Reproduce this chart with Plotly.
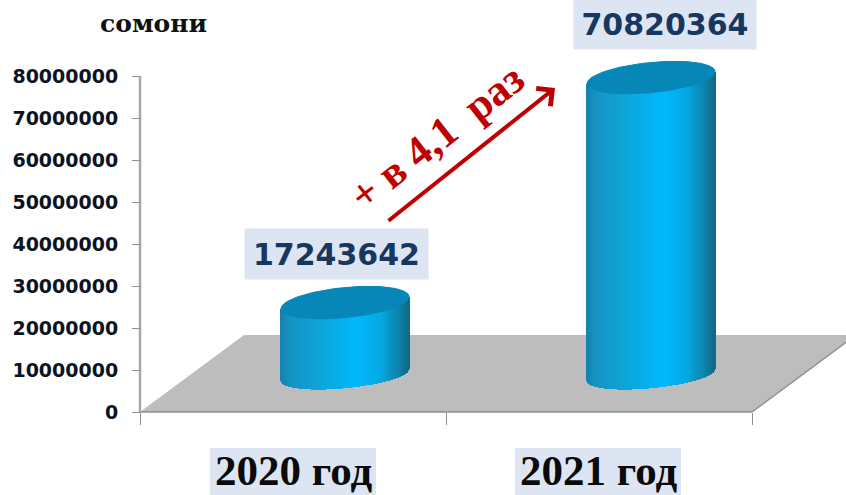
import numpy as np
import plotly.graph_objects as go

# --- data ---
categories = ["2020 год", "2021 год"]
values = [17243642, 70820364]
value_labels = ["17243642", "70820364"]
y_ticks = [0, 10000000, 20000000, 30000000, 40000000, 50000000, 60000000, 70000000, 80000000]
unit_label = "сомони"
growth_label = "+ в 4,1\u00a0\u00a0раз"

# --- figure geometry (pixel <-> axis mapping) ---
W, H = 846, 495
PX_PER_CAT = 306.0
CAT0_PX = 293.0
PX_PER_VAL = 42.0 / 10000000
ZERO_PX = 412.0
x_range = [(0 - CAT0_PX) / PX_PER_CAT, (W - CAT0_PX) / PX_PER_CAT]
y_range = [(ZERO_PX - H) / PX_PER_VAL, ZERO_PX / PX_PER_VAL]
dx = lambda px: px / PX_PER_CAT
dy = lambda px: px / PX_PER_VAL

# 3D look
depth_x = dx(52)
base_lift = dy(37)
half_w = dx(64)
tilt = dy(6)
minor = dy(14)
floor_dx = dx(104)
floor_dy = dy(77)

stops_u = [-1.0, -0.85, -0.4, 0.2, 0.55, 0.85, 1.0]
stops_rgb = np.array([
    [20, 130, 175], [22, 148, 196], [14, 165, 215], [0, 185, 255],
    [5, 170, 230], [15, 130, 170], [15, 105, 135],
], dtype=float)

fig = go.Figure()

# bodies: thin shaded bars between the curved bottom and top edges
N = 128
for i, v in enumerate(values):
    u = np.linspace(-1, 1, N)
    xs = i + depth_x + u * half_w
    low = base_lift + tilt * u - minor * np.sqrt(1 - u ** 2) * 0.95
    hgt = base_lift + v + tilt * u - low
    cols = [f"rgb({int(np.interp(t, stops_u, stops_rgb[:,0]))},"
            f"{int(np.interp(t, stops_u, stops_rgb[:,1]))},"
            f"{int(np.interp(t, stops_u, stops_rgb[:,2]))})" for t in u]
    fig.add_trace(go.Bar(x=xs, y=hgt, base=low, width=dx(1.6),
                         marker=dict(color=cols, line=dict(width=0)),
                         hoverinfo="skip", showlegend=False))

# top caps
t = np.linspace(0, 2 * np.pi, 120)
for i, v in enumerate(values):
    cx = i + depth_x + half_w * np.cos(t)
    cy = base_lift + v + tilt * np.cos(t) + minor * 1.08 * np.sin(t)
    fig.add_trace(go.Scatter(x=cx, y=cy, mode="lines", fill="toself",
                             fillcolor="#0786b8", line=dict(color="#0786b8", width=1),
                             hoverinfo="skip", showlegend=False))

LABEL_BG = "#dde5f2"
SERIF = "Liberation Serif"

shapes = [
    # floor
    dict(type="path", layer="below", xref="x", yref="y",
         path=f"M -0.5 0 L {-0.5 + floor_dx} {floor_dy} L {1.5 + floor_dx} {floor_dy} L 1.5 0 Z",
         fillcolor="#bdbdbd", line=dict(width=0)),
    # floor edges
    dict(type="line", layer="below", xref="x", yref="y", x0=-0.5, y0=0, x1=1.5, y1=0,
         line=dict(color="#8f8f8f", width=1.5)),
    dict(type="line", layer="below", xref="x", yref="y", x0=1.5, y0=0,
         x1=1.5 + floor_dx, y1=floor_dy, line=dict(color="#8f8f8f", width=1.5)),
    # value axis spine
    dict(type="line", layer="below", xref="x", yref="y", x0=-0.5, y0=0, x1=-0.5, y1=y_ticks[-1],
         line=dict(color="#a8a8a8", width=2.5)),
]
# category label backgrounds
for centre in (293, 598):
    shapes.append(dict(type="rect", layer="below", xref="paper", yref="paper",
                       x0=(centre - 83) / W, x1=(centre + 83) / W, y0=0, y1=1 - 448 / H,
                       fillcolor=LABEL_BG, line=dict(width=0)))

anchors = dict(xanchor="center", yanchor="middle", showarrow=False)
annotations = [
    dict(xref="paper", yref="paper", x=153 / W, y=1 - 24 / H, text=unit_label, **anchors,
         font=dict(family="DejaVu Serif", size=25, color="#111111", weight="bold")),
    dict(xref="paper", yref="paper", x=336.5 / W, y=1 - 254 / H, text=value_labels[0], **anchors,
         width=181, height=48, bgcolor=LABEL_BG,
         font=dict(family="DejaVu Sans", size=30, color="#17375e", weight="bold")),
    dict(xref="paper", yref="paper", x=665 / W, y=1 - 24 / H, text=value_labels[1], **anchors,
         width=180, height=48, bgcolor=LABEL_BG,
         font=dict(family="DejaVu Sans", size=30, color="#17375e", weight="bold")),
    dict(xref="paper", yref="paper", x=293 / W, y=1 - 470 / H, text=categories[0], **anchors,
         font=dict(family=SERIF, size=43, color="#0a0a0a", weight="bold")),
    dict(xref="paper", yref="paper", x=598 / W, y=1 - 470 / H, text=categories[1], **anchors,
         font=dict(family=SERIF, size=43, color="#0a0a0a", weight="bold")),
    dict(xref="paper", yref="paper", x=436 / W, y=1 - 137 / H, text=growth_label, **anchors,
         textangle=-38,
         font=dict(family=SERIF, size=43, color="#c00000", weight="bold")),
    dict(xref="paper", yref="paper", x=555 / W, y=1 - 88 / H, text="", showarrow=True,
         axref="pixel", ayref="pixel", ax=387 - 555, ay=222 - 88,
         arrowhead=4, arrowsize=1.1, arrowwidth=4, arrowcolor="#c00000"),
]

fig.update_layout(
    width=W, height=H,
    margin=dict(l=0, r=0, t=0, b=0),
    paper_bgcolor="white", plot_bgcolor="rgba(0,0,0,0)",
    barmode="overlay", bargap=0,
    showlegend=False,
    shapes=shapes, annotations=annotations,
    xaxis=dict(domain=[0, 1], range=x_range, showgrid=False, zeroline=False, showline=False,
               tickmode="array", tickvals=[-0.5, 0.5, 1.5], ticktext=["", "", ""],
               ticks="outside", ticklen=12, tickwidth=1, tickcolor="#8f8f8f",
               anchor="free", position=(H - ZERO_PX) / H),
    yaxis=dict(domain=[0, 1], range=y_range, showgrid=False, zeroline=False, showline=False,
               tickmode="array", tickvals=y_ticks, ticktext=[str(v) for v in y_ticks],
               ticks="outside", ticklen=8, tickwidth=1, tickcolor="#8f8f8f",
               ticklabelstandoff=10,
               tickfont=dict(family="DejaVu Sans", size=19, color="#0c1424", weight="bold"),
               anchor="free", position=140 / W),
)

fig.write_html("out.html", post_script="document.body.style.margin='0';",
               config=dict(displayModeBar=False))
